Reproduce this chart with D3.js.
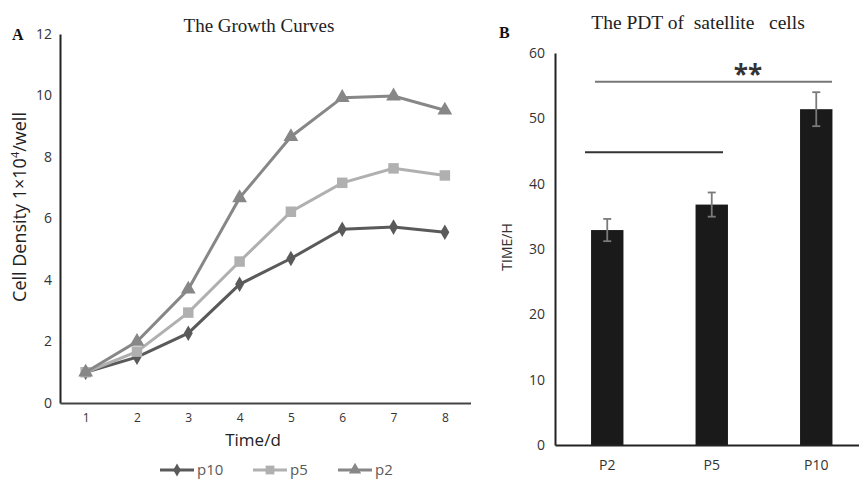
<!DOCTYPE html>
<html><head><meta charset="utf-8">
<script src="https://cdn.jsdelivr.net/npm/d3@7/dist/d3.min.js"></script>
<style>body{margin:0;background:#fff}svg{display:block}</style>
</head><body>
<svg id="c" width="859" height="479"></svg>
<script>
// ---- Data: Panel A (growth curves) ----
const days = [1, 2, 3, 4, 5, 6, 7, 8];
const p10 = [1.0, 1.49, 2.27, 3.86, 4.70, 5.65, 5.72, 5.55];
const p5  = [1.0, 1.67, 2.94, 4.60, 6.22, 7.16, 7.63, 7.40];
const p2  = [1.0, 2.00, 3.70, 6.67, 8.66, 9.93, 9.98, 9.52];
const seriesNames = ["p10", "p5", "p2"];
const yTicksA = [0, 2, 4, 6, 8, 10, 12];

// ---- Data: Panel B (PDT) ----
const passages = ["P2", "P5", "P10"];
const pdt = [32.9, 36.8, 51.4];
const pdtErr = [1.7, 1.85, 2.6];
const yTicksB = [0, 10, 20, 30, 40, 50, 60];

const svg = d3.select("#c");
const sans = "'Open Sans', 'Liberation Sans', sans-serif";
const serif = "'Liberation Serif', 'DejaVu Serif', serif";

// ================= Panel A =================
const xA = d3.scaleLinear().domain([0.5, 8.5]).range([60, 470.5]);
const yA = d3.scaleLinear().domain([0, 12]).range([403, 34]);

svg.append("text").attr("x", 12).attr("y", 40).attr("font-family", serif)
  .attr("font-weight", "bold").attr("font-size", 16).attr("fill", "#111").text("A");
svg.append("text").attr("x", 259).attr("y", 32).attr("text-anchor", "middle")
  .attr("font-family", serif).attr("font-size", 19).attr("fill", "#222").text("The Growth Curves");

const gAy = svg.append("g").attr("transform", "translate(60,0)")
  .call(d3.axisLeft(yA).tickValues(yTicksA).tickSize(0).tickPadding(8));
gAy.select(".domain").attr("stroke", "#222").attr("stroke-width", 2);
gAy.selectAll("text").attr("font-family", sans).attr("font-size", 14).attr("fill", "#333");

const gAx = svg.append("g").attr("transform", "translate(0,403)")
  .call(d3.axisBottom(xA).tickValues(days).tickSize(0).tickPadding(10).tickFormat(d3.format("d")));
gAx.select(".domain").attr("stroke", "#444").attr("stroke-width", 2);
gAx.selectAll("text").attr("font-family", sans).attr("font-size", 12).attr("fill", "#333");

svg.append("text").attr("transform", "translate(26,207) rotate(-90)").attr("text-anchor", "middle")
  .attr("font-family", sans).attr("font-size", 18).attr("fill", "#222")
  .html("Cell Density 1×10<tspan dy='-7' font-size='11'>4</tspan><tspan dy='7'>/well</tspan>");
svg.append("text").attr("x", 253).attr("y", 446).attr("text-anchor", "middle")
  .attr("font-family", sans).attr("font-size", 17).attr("fill", "#222").text("Time/d");

const series = [
  {name: "p10", vals: p10, color: "#5a5a5a", sym: d3.symbolDiamond, size: 70},
  {name: "p5",  vals: p5,  color: "#b0b0b0", sym: d3.symbolSquare,  size: 110},
  {name: "p2",  vals: p2,  color: "#878787", sym: d3.symbolTriangle, size: 95}
];
const line = d3.line().x((d, i) => xA(days[i])).y(d => yA(d));
series.forEach(s => {
  svg.append("path").datum(s.vals).attr("d", line).attr("fill", "none")
    .attr("stroke", s.color).attr("stroke-width", 3);
  svg.append("g").selectAll("path").data(s.vals).join("path")
    .attr("transform", (d, i) => `translate(${xA(days[i])},${yA(d)})`)
    .attr("d", d3.symbol().type(s.sym).size(s.size)).attr("fill", s.color);
});

// legend
const legX = [160, 253, 338];
series.forEach((s, i) => {
  const g = svg.append("g").attr("transform", `translate(${legX[i]},470)`);
  g.append("line").attr("x1", 0).attr("x2", 34).attr("stroke", s.color).attr("stroke-width", 3);
  g.append("path").attr("transform", "translate(17,0)")
    .attr("d", d3.symbol().type(s.sym).size(s.size * 0.7)).attr("fill", s.color);
  g.append("text").attr("x", 37).attr("y", 5).attr("font-family", sans).attr("font-size", 15)
    .attr("fill", "#595959").text(s.name);
});

// ================= Panel B =================
const xB = d3.scaleBand().domain(passages).range([555, 868.5]).paddingInner(0.69).paddingOuter(0.345);
const yB = d3.scaleLinear().domain([0, 60]).range([445, 53]);

svg.append("text").attr("x", 499).attr("y", 38).attr("font-family", serif)
  .attr("font-weight", "bold").attr("font-size", 16).attr("fill", "#111").text("B");
svg.append("text").attr("x", 698).attr("y", 29).attr("text-anchor", "middle")
  .attr("font-family", serif).attr("font-size", 19.5).attr("fill", "#222")
  .attr("xml:space", "preserve").style("white-space", "pre").text("The PDT of  satellite   cells");

const gBy = svg.append("g").attr("transform", "translate(555,0)")
  .call(d3.axisLeft(yB).tickValues(yTicksB).tickSize(0).tickPadding(10));
gBy.select(".domain").attr("stroke", "#222").attr("stroke-width", 2);
gBy.selectAll("text").attr("font-family", sans).attr("font-size", 14).attr("fill", "#333");

svg.append("text").attr("transform", "translate(512,247) rotate(-90)").attr("text-anchor", "middle")
  .attr("font-family", sans).attr("font-size", 14).attr("fill", "#333").text("TIME/H");

svg.append("g").selectAll("rect").data(pdt).join("rect")
  .attr("x", (d, i) => xB(passages[i])).attr("width", xB.bandwidth())
  .attr("y", d => yB(d)).attr("height", d => yB(0) - yB(d)).attr("fill", "#1a1a1a");

// error bars
const eg = svg.append("g").attr("stroke", "#7a7a7a").attr("stroke-width", 1.8);
pdt.forEach((v, i) => {
  const cx = xB(passages[i]) + xB.bandwidth() / 2;
  eg.append("line").attr("x1", cx).attr("x2", cx).attr("y1", yB(v + pdtErr[i])).attr("y2", yB(v - pdtErr[i]));
  [v + pdtErr[i], v - pdtErr[i]].forEach(e =>
    eg.append("line").attr("x1", cx - 4).attr("x2", cx + 4).attr("y1", yB(e)).attr("y2", yB(e)));
});

const gBx = svg.append("g").attr("transform", "translate(0,445)")
  .call(d3.axisBottom(xB).tickSize(0).tickPadding(15));
gBx.select(".domain").attr("stroke", "#222").attr("stroke-width", 2);
gBx.selectAll("text").attr("font-family", sans).attr("font-size", 14).attr("fill", "#333");

// significance lines
svg.append("line").attr("x1", 595).attr("x2", 832).attr("y1", yB(55.6)).attr("y2", yB(55.6))
  .attr("stroke", "#777").attr("stroke-width", 2);
svg.append("line").attr("x1", 585).attr("x2", 723).attr("y1", yB(44.8)).attr("y2", yB(44.8))
  .attr("stroke", "#333").attr("stroke-width", 2);
svg.append("text").attr("x", 748).attr("y", 84).attr("text-anchor", "middle")
  .attr("font-family", sans).attr("font-weight", "bold").attr("font-size", 26).attr("fill", "#333").text("**");
</script>
</body></html>
